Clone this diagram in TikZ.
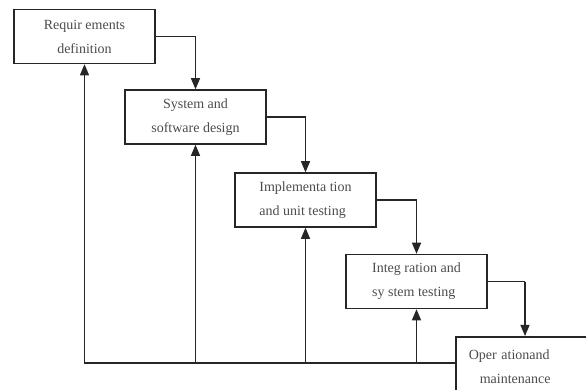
\documentclass[tikz,border=0pt]{standalone}
\usepackage{fontspec}
\setmainfont{Liberation Serif}
\usetikzlibrary{arrows}
\tikzstyle{stage} = [rectangle,fill=white,draw=black!85,line width=1.5pt,
minimum width=141pt, minimum height=54pt, inner sep=2pt, align=center,
text=black!70, font=\fontsize{14}{24}\selectfont]
\tikzstyle{link} = [draw=black!85, line width=1.6pt]
\tikzset{>={triangle 45}}
\newcommand{\cascade}[2]{ %
  % Step down from stage #1 to stage #2.
  \draw[link,->] (#1.east) -| (#2.north) ;%
}

\begin{document}
\begin{tikzpicture}[x=1pt, y=-1pt]
  \useasboundingbox (0,0) rectangle (586,389);

  \node[stage] (req) at (84.5,36.5) {Requir ements\\definition};
  \node[stage] (des) at (195.5,117) {System and\\software design};
  \node[stage, align=left] (imp) at (305.5,200) {Implementa tion\\and unit testing};
  \node[stage, align=left] (int) at (416.5,281.5) {Integ ration and\\sy stem testing};
  \node[stage, anchor=north west, minimum width=136pt, minimum height=60pt,
    text width=110pt, align=left] (ops) at (455,336) {Oper ationand\\\hspace*{11pt}maintenance};

  \foreach \x/\y in {req/des, des/imp, imp/int} {
    \cascade{\x}{\y}
  }
  \coordinate (turn) at (525,281.5);
  \draw[link] (int.east) -- (turn);
  \draw[link,->] (turn) -- (turn |- ops.north);

  % feedback to every stage
  \coordinate (base) at (84,363);
  \coordinate (end) at (455,363);
  \draw[link] (base) -- (end);
  \foreach \s in {req, des, imp, int} {
    \draw[link,->] (base -| \s.south) -- (\s.south);
  }
\end{tikzpicture}
\end{document}
